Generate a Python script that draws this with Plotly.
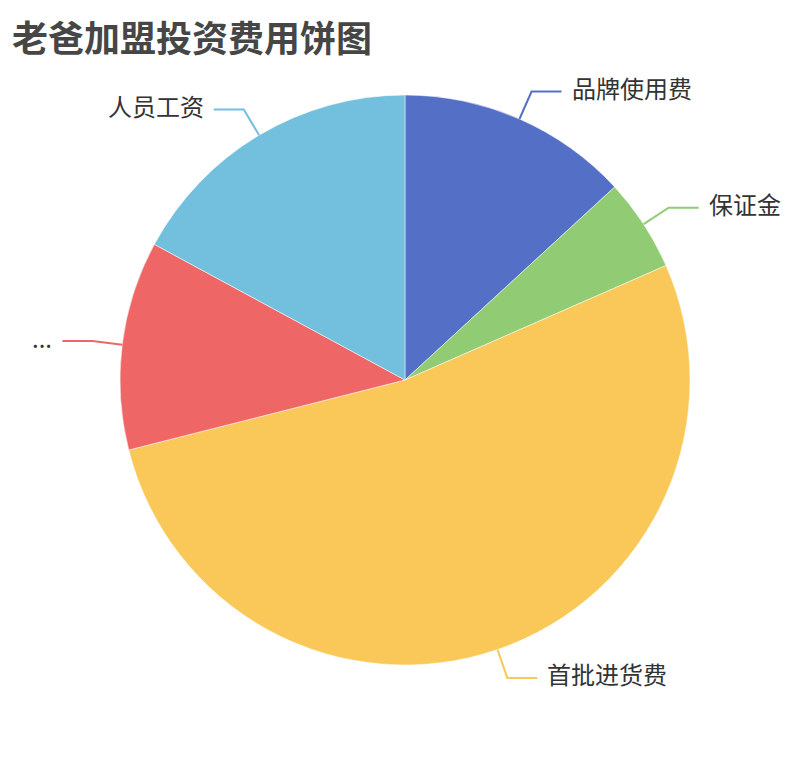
import numpy as np
import plotly.graph_objects as go

# Pie data (万元)
names = ["品牌使用费", "保证金", "首批进货费", "...", "人员工资"]
values = [5, 2, 20, 4.5, 6.5]
colors = ["#5470c6", "#91cc75", "#fac858", "#ee6666", "#73c0de"]

# page body has an 8px margin, so the figure is a bit smaller and shifted
OFF = 8
W, H = 810 - 2 * OFF, 760 - 2 * OFF
cx, cy, r = 405 - OFF, 380 - OFF, 285   # pie centre / radius in px
len1, len2, gap = 30, 30, 8             # label line lengths

fig = go.Figure(go.Pie(
    labels=names, values=values, sort=False, direction="clockwise", rotation=0,
    marker=dict(colors=colors, line=dict(color="white", width=0.5)),
    textinfo="none", hoverinfo="label+value+percent", showlegend=False,
    domain=dict(x=[(cx - r) / W, (cx + r) / W], y=[1 - (cy + r) / H, 1 - (cy - r) / H]),
))

# leader lines + labels, positioned from the slice angles
px = lambda x: x / W
py = lambda y: 1 - y / H
frac = np.array(values) / sum(values)
start = np.concatenate([[0], np.cumsum(frac)[:-1]])
mids = (start + frac / 2) * 2 * np.pi

shapes, annotations = [], []
for name, col, a in zip(names, colors, mids):
    dx, dy = np.sin(a), -np.cos(a)
    x0, y0 = cx + r * dx, cy + r * dy
    x1, y1 = cx + (r + len1) * dx, cy + (r + len1) * dy
    side = 1 if dx >= 0 else -1
    x2 = x1 + side * len2
    shapes.append(dict(
        type="path", xref="paper", yref="paper",
        path=f"M {px(x0)} {py(y0)} L {px(x1)} {py(y1)} L {px(x2)} {py(y1)}",
        line=dict(color=col, width=2),
    ))
    annotations.append(dict(
        x=px(x2 + side * gap), y=py(y1), xref="paper", yref="paper", yshift=4,
        text=name, showarrow=False, xanchor="left" if side > 0 else "right", yanchor="middle",
        font=dict(size=24, color="#333333", family="Noto Sans CJK SC"),
    ))

# title as annotation so it isn't clipped at the top edge
annotations.append(dict(
    x=(10 - OFF) / W, y=1 - 0 / H, xref="paper", yref="paper", xanchor="left", yanchor="top",
    text="<b>老爸加盟投资费用饼图</b>", showarrow=False,
    font=dict(size=36, color="#464646", family="Noto Sans CJK SC"),
))

fig.update_layout(
    width=W, height=H, margin=dict(l=0, r=0, t=0, b=0),
    paper_bgcolor="white", plot_bgcolor="white",
    shapes=shapes, annotations=annotations,
)

fig.write_html("out.html")
